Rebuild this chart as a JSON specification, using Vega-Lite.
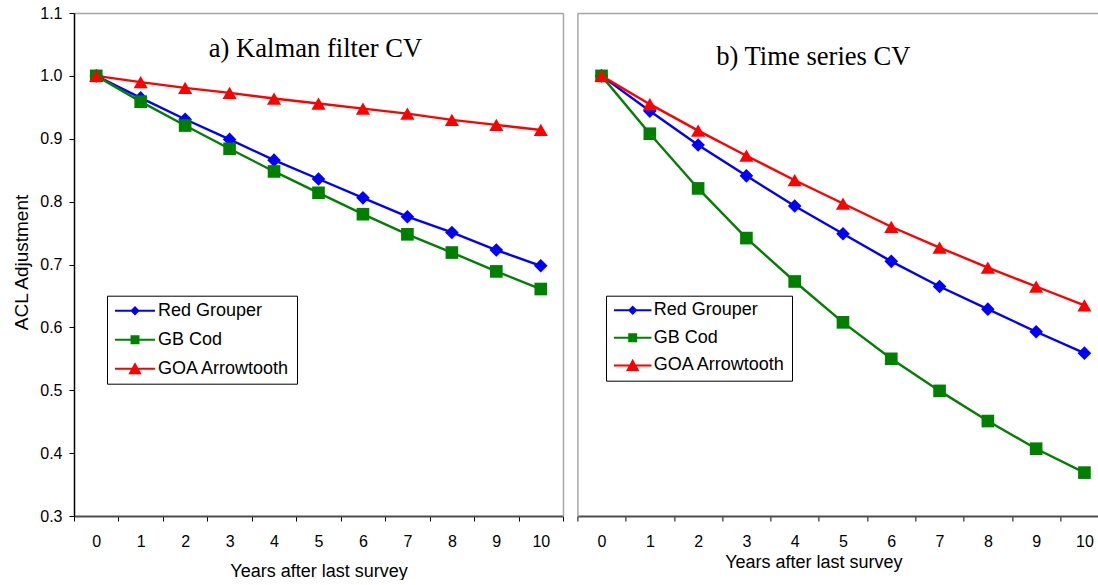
{
  "$schema": "https://vega.github.io/schema/vega-lite/v6.json",
  "padding": {"left": 12, "top": 5, "right": 0, "bottom": 0},
  "autosize": {"type": "pad"},
  "spacing": 12.4,
  "config": {"font": "Liberation Sans", "view": {"stroke": null}},
  "data": {"values": [
    {"panel": "a", "series": "Red Grouper", "year": 0, "value": 1.0},
    {"panel": "a", "series": "Red Grouper", "year": 1, "value": 0.965},
    {"panel": "a", "series": "Red Grouper", "year": 2, "value": 0.931},
    {"panel": "a", "series": "Red Grouper", "year": 3, "value": 0.899},
    {"panel": "a", "series": "Red Grouper", "year": 4, "value": 0.866},
    {"panel": "a", "series": "Red Grouper", "year": 5, "value": 0.836},
    {"panel": "a", "series": "Red Grouper", "year": 6, "value": 0.806},
    {"panel": "a", "series": "Red Grouper", "year": 7, "value": 0.776},
    {"panel": "a", "series": "Red Grouper", "year": 8, "value": 0.751},
    {"panel": "a", "series": "Red Grouper", "year": 9, "value": 0.723},
    {"panel": "a", "series": "Red Grouper", "year": 10, "value": 0.698},
    {"panel": "a", "series": "GB Cod", "year": 0, "value": 1.0},
    {"panel": "a", "series": "GB Cod", "year": 1, "value": 0.959},
    {"panel": "a", "series": "GB Cod", "year": 2, "value": 0.921},
    {"panel": "a", "series": "GB Cod", "year": 3, "value": 0.884},
    {"panel": "a", "series": "GB Cod", "year": 4, "value": 0.848},
    {"panel": "a", "series": "GB Cod", "year": 5, "value": 0.814},
    {"panel": "a", "series": "GB Cod", "year": 6, "value": 0.780},
    {"panel": "a", "series": "GB Cod", "year": 7, "value": 0.748},
    {"panel": "a", "series": "GB Cod", "year": 8, "value": 0.719},
    {"panel": "a", "series": "GB Cod", "year": 9, "value": 0.689},
    {"panel": "a", "series": "GB Cod", "year": 10, "value": 0.661},
    {"panel": "a", "series": "GOA Arrowtooth", "year": 0, "value": 1.0},
    {"panel": "a", "series": "GOA Arrowtooth", "year": 1, "value": 0.990},
    {"panel": "a", "series": "GOA Arrowtooth", "year": 2, "value": 0.981},
    {"panel": "a", "series": "GOA Arrowtooth", "year": 3, "value": 0.973},
    {"panel": "a", "series": "GOA Arrowtooth", "year": 4, "value": 0.964},
    {"panel": "a", "series": "GOA Arrowtooth", "year": 5, "value": 0.956},
    {"panel": "a", "series": "GOA Arrowtooth", "year": 6, "value": 0.948},
    {"panel": "a", "series": "GOA Arrowtooth", "year": 7, "value": 0.940},
    {"panel": "a", "series": "GOA Arrowtooth", "year": 8, "value": 0.930},
    {"panel": "a", "series": "GOA Arrowtooth", "year": 9, "value": 0.922},
    {"panel": "a", "series": "GOA Arrowtooth", "year": 10, "value": 0.914},
    {"panel": "b", "series": "Red Grouper", "year": 0, "value": 1.0},
    {"panel": "b", "series": "Red Grouper", "year": 1, "value": 0.944},
    {"panel": "b", "series": "Red Grouper", "year": 2, "value": 0.890},
    {"panel": "b", "series": "Red Grouper", "year": 3, "value": 0.841},
    {"panel": "b", "series": "Red Grouper", "year": 4, "value": 0.793},
    {"panel": "b", "series": "Red Grouper", "year": 5, "value": 0.749},
    {"panel": "b", "series": "Red Grouper", "year": 6, "value": 0.705},
    {"panel": "b", "series": "Red Grouper", "year": 7, "value": 0.665},
    {"panel": "b", "series": "Red Grouper", "year": 8, "value": 0.629},
    {"panel": "b", "series": "Red Grouper", "year": 9, "value": 0.593},
    {"panel": "b", "series": "Red Grouper", "year": 10, "value": 0.559},
    {"panel": "b", "series": "GB Cod", "year": 0, "value": 1.0},
    {"panel": "b", "series": "GB Cod", "year": 1, "value": 0.908},
    {"panel": "b", "series": "GB Cod", "year": 2, "value": 0.821},
    {"panel": "b", "series": "GB Cod", "year": 3, "value": 0.742},
    {"panel": "b", "series": "GB Cod", "year": 4, "value": 0.673},
    {"panel": "b", "series": "GB Cod", "year": 5, "value": 0.608},
    {"panel": "b", "series": "GB Cod", "year": 6, "value": 0.550},
    {"panel": "b", "series": "GB Cod", "year": 7, "value": 0.499},
    {"panel": "b", "series": "GB Cod", "year": 8, "value": 0.451},
    {"panel": "b", "series": "GB Cod", "year": 9, "value": 0.407},
    {"panel": "b", "series": "GB Cod", "year": 10, "value": 0.369},
    {"panel": "b", "series": "GOA Arrowtooth", "year": 0, "value": 1.0},
    {"panel": "b", "series": "GOA Arrowtooth", "year": 1, "value": 0.955},
    {"panel": "b", "series": "GOA Arrowtooth", "year": 2, "value": 0.913},
    {"panel": "b", "series": "GOA Arrowtooth", "year": 3, "value": 0.873},
    {"panel": "b", "series": "GOA Arrowtooth", "year": 4, "value": 0.834},
    {"panel": "b", "series": "GOA Arrowtooth", "year": 5, "value": 0.797},
    {"panel": "b", "series": "GOA Arrowtooth", "year": 6, "value": 0.760},
    {"panel": "b", "series": "GOA Arrowtooth", "year": 7, "value": 0.727},
    {"panel": "b", "series": "GOA Arrowtooth", "year": 8, "value": 0.695},
    {"panel": "b", "series": "GOA Arrowtooth", "year": 9, "value": 0.665},
    {"panel": "b", "series": "GOA Arrowtooth", "year": 10, "value": 0.635}
  ]},
  "hconcat": [
    {
      "width": 489,
      "height": 503,
      "transform": [{"filter": "datum.panel === 'a'"}],
      "title": {"text": "a) Kalman filter CV", "font": "Liberation Serif", "fontSize": 26.6, "fontWeight": "normal", "color": "#000000", "anchor": "middle", "baseline": "alphabetic", "frame": "group", "offset": -79, "dx": -3},
      "encoding": {
        "x": {"field": "year", "type": "quantitative", "scale": {"domain": [-0.5, 10.5], "nice": false, "zero": false}},
        "y": {"field": "value", "type": "quantitative", "scale": {"domain": [0.3, 1.1], "nice": false, "zero": false}},
        "color": {"field": "series", "type": "nominal",
          "scale": {"domain": ["Red Grouper", "GB Cod", "GOA Arrowtooth"], "range": ["#0000ff", "#008000", "#ff0000"]}}
      },
      "layer": [
        {
          "mark": {"type": "line", "strokeWidth": 2.4},
          "encoding": {
            "x": {"field": "year", "type": "quantitative",
              "axis": {"orient": "bottom", "values": [-0.5, 0, 0.5, 1, 1.5, 2, 2.5, 3, 3.5, 4, 4.5, 5, 5.5, 6, 6.5, 7, 7.5, 8, 8.5, 9, 9.5, 10, 10.5],
                "labelExpr": "datum.value % 1 === 0 ? '' + datum.value : ''",
                "tickOpacity": {"condition": {"test": "datum.value % 1 === 0", "value": 0}, "value": 1},
                "tickSize": 5, "tickColor": "#000000", "tickWidth": 1,
                "domainColor": "#4d4d4d", "domainWidth": 2,
                "labelFont": "Liberation Sans", "labelFontSize": 16, "labelColor": "#000000", "labelPadding": 12,
                "labelOverlap": false, "labelFlush": false, "labelBound": false, "grid": false,
                "title": "Years after last survey", "titleFont": "Liberation Sans", "titleFontSize": 18, "titleFontWeight": "normal", "titleColor": "#000000",
                "titleBaseline": "alphabetic", "titleY": 60}},
            "y": {"field": "value", "type": "quantitative",
              "axis": {"orient": "left", "values": [0.3, 0.4, 0.5, 0.6, 0.7, 0.8, 0.9, 1.0, 1.1], "format": ".1f",
                "tickSize": 5, "tickColor": "#000000", "domainColor": "#000000", "domainWidth": 1.5,
                "labelFont": "Liberation Sans", "labelFontSize": 16, "labelColor": "#000000", "labelPadding": 7, "grid": false,
                "title": "ACL Adjustment", "titleFont": "Liberation Sans", "titleFontSize": 19, "titleFontWeight": "normal", "titleColor": "#000000",
                "titleAngle": 270, "titleBaseline": "middle", "titleAlign": "center", "titleX": -53, "titleY": 249}},
            "color": {"field": "series", "type": "nominal",
              "legend": {"orient": "none", "legendX": 33, "legendY": 282.7, "title": null, "direction": "vertical",
                "fillColor": "#ffffff", "strokeColor": "#000000", "padding": 6, "rowPadding": 11,
                "labelFont": "Liberation Sans", "labelFontSize": 18, "labelColor": "#000000", "labelLimit": 400,
                "symbolSize": 144, "symbolOffset": 13, "labelOffset": 14,
                "encode": {"symbols": {"update": {
                  "shape": {"signal": "datum.value === 'Red Grouper' ? 'M-3.33,0L3.33,0M0,-0.55L0.55,0L0,0.55L-0.55,0Z' : datum.value === 'GB Cod' ? 'M-3.33,0L3.33,0M-0.58,-0.58L0.58,-0.58L0.58,0.58L-0.58,0.58Z' : 'M-3.33,0L3.33,0M0,-0.75L0.83,0.75L-0.83,0.75Z'"},
                  "fill": {"signal": "datum.value === 'Red Grouper' ? '#0000ff' : datum.value === 'GB Cod' ? '#008000' : '#ff0000'"},
                  "stroke": {"signal": "datum.value === 'Red Grouper' ? '#0000ff' : datum.value === 'GB Cod' ? '#008000' : '#ff0000'"},
                  "strokeWidth": {"value": 2},
                  "size": {"value": 144},
                  "opacity": {"value": 1}
                }}}}}
          }
        },
        {
          "transform": [{"filter": "datum.series === 'Red Grouper'"}],
          "mark": {"type": "point", "shape": "diamond", "filled": true, "opacity": 1, "size": 185},
          "encoding": {
            "x": {"field": "year", "type": "quantitative",
              "axis": {"orient": "top", "domainColor": "#a6a6a6", "domainWidth": 1.5, "ticks": false, "labels": false, "title": null, "grid": false}},
            "y": {"field": "value", "type": "quantitative",
              "axis": {"orient": "right", "domainColor": "#a6a6a6", "domainWidth": 1.5, "ticks": false, "labels": false, "title": null, "grid": false}}
          }
        },
        {
          "transform": [{"filter": "datum.series === 'GB Cod'"}],
          "mark": {"type": "point", "shape": "square", "filled": true, "opacity": 1, "size": 160},
          "encoding": {
            "x": {"field": "year", "type": "quantitative", "axis": null},
            "y": {"field": "value", "type": "quantitative", "axis": null}
          }
        },
        {
          "transform": [{"filter": "datum.series === 'GOA Arrowtooth'"}],
          "mark": {"type": "point", "shape": "triangle-up", "filled": true, "opacity": 1, "size": 200},
          "encoding": {
            "x": {"field": "year", "type": "quantitative", "axis": null},
            "y": {"field": "value", "type": "quantitative", "axis": null}
          }
        }
      ],
      "resolve": {"axis": {"x": "independent", "y": "independent"}}
    },
    {
      "width": 522,
      "height": 503,
      "transform": [{"filter": "datum.panel === 'b'"}],
      "title": {"text": "b) Time series CV", "font": "Liberation Serif", "fontSize": 26.6, "fontWeight": "normal", "color": "#000000", "anchor": "middle", "baseline": "alphabetic", "frame": "group", "offset": -79, "dx": -25},
      "encoding": {
        "x": {"field": "year", "type": "quantitative", "scale": {"domain": [-0.5, 10.31], "nice": false, "zero": false}},
        "y": {"field": "value", "type": "quantitative", "scale": {"domain": [0.3, 1.1], "nice": false, "zero": false}},
        "color": {"field": "series", "type": "nominal",
          "scale": {"domain": ["Red Grouper", "GB Cod", "GOA Arrowtooth"], "range": ["#0000ff", "#008000", "#ff0000"]}}
      },
      "layer": [
        {
          "mark": {"type": "line", "strokeWidth": 2.4},
          "encoding": {
            "x": {"field": "year", "type": "quantitative",
              "axis": {"orient": "bottom", "values": [-0.5, 0, 0.5, 1, 1.5, 2, 2.5, 3, 3.5, 4, 4.5, 5, 5.5, 6, 6.5, 7, 7.5, 8, 8.5, 9, 9.5, 10],
                "labelExpr": "datum.value % 1 === 0 ? '' + datum.value : ''",
                "tickOpacity": {"condition": {"test": "datum.value % 1 === 0", "value": 0}, "value": 1},
                "tickSize": 5, "tickColor": "#000000", "tickWidth": 1,
                "domainColor": "#4d4d4d", "domainWidth": 2,
                "labelFont": "Liberation Sans", "labelFontSize": 16, "labelColor": "#000000", "labelPadding": 12,
                "labelOverlap": false, "labelFlush": false, "labelBound": false, "grid": false,
                "title": "Years after last survey", "titleFont": "Liberation Sans", "titleFontSize": 18, "titleFontWeight": "normal", "titleColor": "#000000",
                "titleBaseline": "alphabetic", "titleY": 51.3, "titleX": 236}},
            "y": {"field": "value", "type": "quantitative",
              "axis": {"orient": "left", "domainColor": "#a6a6a6", "domainWidth": 1.5, "ticks": false, "labels": false, "title": null, "grid": false}},
            "color": {"field": "series", "type": "nominal",
              "legend": {"orient": "none", "legendX": 28.6, "legendY": 282.7, "title": null, "direction": "vertical",
                "fillColor": "#ffffff", "strokeColor": "#000000", "padding": 5.5, "rowPadding": 9.6,
                "labelFont": "Liberation Sans", "labelFontSize": 18, "labelColor": "#000000", "labelLimit": 400,
                "symbolSize": 144, "symbolOffset": 12.2, "labelOffset": 12,
                "encode": {"symbols": {"update": {
                  "shape": {"signal": "datum.value === 'Red Grouper' ? 'M-3.13,0L3.13,0M0,-0.55L0.55,0L0,0.55L-0.55,0Z' : datum.value === 'GB Cod' ? 'M-3.13,0L3.13,0M-0.58,-0.58L0.58,-0.58L0.58,0.58L-0.58,0.58Z' : 'M-3.13,0L3.13,0M0,-0.75L0.83,0.75L-0.83,0.75Z'"},
                  "fill": {"signal": "datum.value === 'Red Grouper' ? '#0000ff' : datum.value === 'GB Cod' ? '#008000' : '#ff0000'"},
                  "stroke": {"signal": "datum.value === 'Red Grouper' ? '#0000ff' : datum.value === 'GB Cod' ? '#008000' : '#ff0000'"},
                  "strokeWidth": {"value": 2},
                  "size": {"value": 144},
                  "opacity": {"value": 1}
                }}}}}
          }
        },
        {
          "transform": [{"filter": "datum.series === 'Red Grouper'"}],
          "mark": {"type": "point", "shape": "diamond", "filled": true, "opacity": 1, "size": 185},
          "encoding": {
            "x": {"field": "year", "type": "quantitative",
              "axis": {"orient": "top", "domainColor": "#a6a6a6", "domainWidth": 1.5, "ticks": false, "labels": false, "title": null, "grid": false}},
            "y": {"field": "value", "type": "quantitative", "axis": null}
          }
        },
        {
          "transform": [{"filter": "datum.series === 'GB Cod'"}],
          "mark": {"type": "point", "shape": "square", "filled": true, "opacity": 1, "size": 160},
          "encoding": {
            "x": {"field": "year", "type": "quantitative", "axis": null},
            "y": {"field": "value", "type": "quantitative", "axis": null}
          }
        },
        {
          "transform": [{"filter": "datum.series === 'GOA Arrowtooth'"}],
          "mark": {"type": "point", "shape": "triangle-up", "filled": true, "opacity": 1, "size": 200},
          "encoding": {
            "x": {"field": "year", "type": "quantitative", "axis": null},
            "y": {"field": "value", "type": "quantitative", "axis": null}
          }
        }
      ],
      "resolve": {"axis": {"x": "independent", "y": "independent"}}
    }
  ],
  "resolve": {"scale": {"color": "independent"}, "legend": {"color": "independent"}}
}
